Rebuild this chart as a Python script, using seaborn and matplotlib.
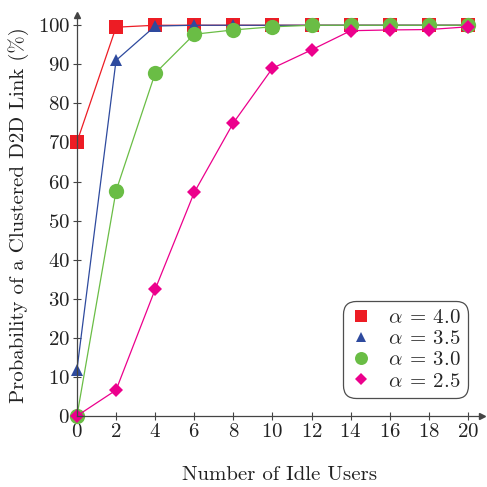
import matplotlib
matplotlib.use("Agg")
import matplotlib.pyplot as plt
import seaborn as sns
import pandas as pd

sns.set_theme(style="white")
plt.rcParams["font.family"] = ["serif"]
plt.rcParams["font.serif"] = ["cmr10", "DejaVu Serif"]
plt.rcParams["mathtext.fontset"] = "cm"
plt.rcParams["axes.formatter.use_mathtext"] = True

x_users = [0, 2, 4, 6, 8, 10, 12, 14, 16, 18, 20]
p_a40 = [70.1, 99.5, 100, 100, 100, 100, 100, 100, 100, 100, 100]
p_a35 = [11.8, 91.0, 99.8, 100, 100, 100, 100, 100, 100, 100, 100]
p_a30 = [0, 57.6, 87.7, 97.7, 98.8, 99.6, 100, 100, 100, 100, 100]
p_a25 = [0, 6.6, 32.4, 57.2, 75.0, 89.0, 93.7, 98.6, 98.8, 98.9, 99.6]
labels = [r"$\alpha\:=\:4.0$", r"$\alpha\:=\:3.5$", r"$\alpha\:=\:3.0$", r"$\alpha\:=\:2.5$"]
series = [p_a40, p_a35, p_a30, p_a25]
colors = ["#ED1C24", "#2E4A9E", "#6ABD45", "#EC008C"]
markers = ["s", "^", "o", "D"]
msizes = [10, 9, 11, 7]

fig = plt.figure(figsize=(4.87, 4.87), dpi=100)
ax = fig.add_axes([0.158, 0.146, 0.831, 0.823])

for vals, lab, c, m, ms in zip(series, labels, colors, markers, msizes):
    df = pd.DataFrame({"x": x_users, "y": vals})
    sns.lineplot(data=df, x="x", y="y", ax=ax, color=c, marker=m, markersize=ms,
                 markeredgewidth=0, linewidth=0.9, label=lab, clip_on=False)

ax.set_xlim(0, 20.7)
ax.set_ylim(0, 102.6)
ax.set_xticks(x_users)
ax.set_yticks(range(0, 101, 10))

axc = "#444444"
for s in ["top", "right"]:
    ax.spines[s].set_visible(False)
for s in ["left", "bottom"]:
    ax.spines[s].set_color(axc)
    ax.spines[s].set_linewidth(0.9)
ax.tick_params(axis="both", direction="inout", length=6, width=0.8, color=axc,
               labelsize=15, labelcolor="#222222", left=True, bottom=True, pad=2)
ax.plot(1, 0, marker=">", color=axc, markersize=5, transform=ax.get_yaxis_transform(), clip_on=False)
ax.plot(0, 1, marker="^", color=axc, markersize=5, transform=ax.get_xaxis_transform(), clip_on=False)

ax.set_xlabel("Number of Idle Users", fontsize=15, color="#222222")
ax.xaxis.set_label_coords(0.5, -0.125)
ax.set_ylabel("Probability of a Clustered D2D Link (%)", fontsize=15, color="#222222", labelpad=6)

leg = ax.legend(loc="lower right", bbox_to_anchor=(0.967, 0.045), fontsize=15, frameon=True,
                fancybox=True, edgecolor="#222222", handlelength=1.0, handletextpad=0.8,
                borderpad=0.35, labelspacing=0.12, borderaxespad=0, markerscale=0.85)
leg.get_frame().set_linewidth(0.9)
leg.get_frame().set_boxstyle("round", pad=0.0, rounding_size=0.6)
for h in leg.get_lines():
    h.set_linestyle("")

fig.savefig("out.png", dpi=100)
